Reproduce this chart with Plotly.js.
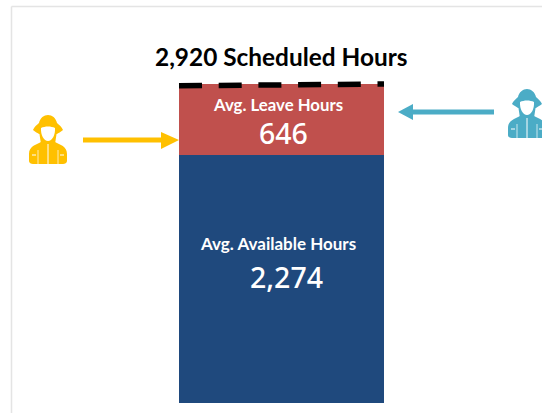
<!DOCTYPE html>
<html><head><meta charset="utf-8">
<script src="https://cdn.plot.ly/plotly-3.0.1.min.js"></script>
<style>html,body{margin:0;padding:0;background:#fff;overflow:hidden}</style></head>
<body><div id="chart" style="width:542px;height:413px"></div>
<script>
const categories = ['Hours'];
const availableHours = [2274];
const leaveHours = [646];
const scheduledHours = 2920;
const titleText = '2,920 Scheduled Hours';
const leaveLabel = 'Avg. Leave Hours';
const leaveValueText = '646';
const availableLabel = 'Avg. Available Hours';
const availableValueText = '2,274';

const W = 542, H = 413, L = 179, R = 384, T = 84, B = 403;
const px = x => (x - L) / (R - L);
const py = y => (B - y) / (B - T);
function path(segs){
  return segs.map(s => {
    const c = s[0], a = s.slice(1); let out = c;
    for (let i = 0; i < a.length; i += 2) out += (i ? ' ' : '') + px(a[i]).toFixed(5) + ',' + py(a[i+1]).toFixed(5);
    return out;
  }).join(' ');
}
function shp(segs, fill){
  return {type:'path', xref:'paper', yref:'paper', path:path(segs), fillcolor:fill, line:{width:0}, layer:'above'};
}
function strokeLine(x0,y0,x1,y1,color,w,dash){
  return {type:'line', xref:'paper', yref:'paper', x0:px(x0), y0:py(y0), x1:px(x1), y1:py(y1),
    line:{color:color, width:w, dash:dash||'solid'}, layer:'above'};
}
function icon(cx, top, color){
  const X = v => cx + v, Y = v => top + v;
  return [
    // body
    shp([['M',X(-7),Y(27)],['C',X(-12),Y(30),X(-19),Y(31),X(-19),Y(39)],['L',X(-19),Y(46)],
         ['C',X(-19),Y(48),X(-17),Y(49),X(-15),Y(49)],['L',X(15),Y(49)],['C',X(17),Y(49),X(19),Y(48),X(19),Y(46)],
         ['L',X(19),Y(39)],['C',X(19),Y(31),X(12),Y(30),X(7),Y(27)],['Z']], color),
    // helmet crown and brim
    shp([['M',X(-9),Y(8)],['C',X(-8),Y(3),X(-4),Y(0),X(0),Y(0)],['C',X(4),Y(0),X(8),Y(3),X(9),Y(8)],
         ['C',X(11),Y(10),X(14),Y(12),X(15),Y(15)],['C',X(13),Y(17),X(10),Y(18),X(9),Y(19)],
         ['L',X(-9),Y(19)],['C',X(-10),Y(18),X(-13),Y(17),X(-15),Y(15)],['C',X(-14),Y(12),X(-11),Y(10),X(-9),Y(8)],['Z']], color),
    // sides of the head
    shp([['M',X(-9),Y(16)],['L',X(9),Y(16)],['L',X(7),Y(29)],['L',X(-7),Y(29)],['Z']], color),
    // face
    shp([['M',X(-7),Y(13)],['C',X(-3),Y(11),X(3),Y(11),X(7),Y(13)],['C',X(7.5),Y(20),X(4),Y(26),X(0),Y(26)],
         ['C',X(-4),Y(26),X(-7.5),Y(20),X(-7),Y(13)],['Z']], '#ffffff'),
    // coat seams
    strokeLine(X(0),Y(29),X(0),Y(49),'#ffffff',1),
    strokeLine(X(-16),Y(40),X(-12),Y(40),'#ffffff',1),
    strokeLine(X(12),Y(40),X(16),Y(40),'#ffffff',1),
    strokeLine(X(-10),Y(35),X(-10),Y(49),'#ffffff',0.7),
    strokeLine(X(10),Y(35),X(10),Y(49),'#ffffff',0.7)
  ];
}
const yellow = '#FFC000', teal = '#4BACC6';
const shapes = [
  strokeLine(11.5,6.5,542,6.5,'#e4e4e4',1.5),
  strokeLine(11.5,6.5,11.5,413,'#e4e4e4',1.5),
  // dashed top line
  {type:'line', xref:'paper', yref:'paper', x0:0, x1:1, y0:py(85.8), y1:py(84),
   line:{color:'#000000', width:5.5, dash:'23px,16.7px'}, layer:'above'},
  // yellow arrow
  shp([['M',83,137.5],['L',161,137.5],['L',161,132],['L',179,140],['L',161,149],['L',161,142.5],['L',83,142.5],['Z']], yellow),
  // teal arrow
  shp([['M',494,109.5],['L',413,109.5],['L',413,104],['L',398,112],['L',413,120],['L',413,114.5],['L',494,114.5],['Z']], teal),
  ...icon(48,115,yellow),
  ...icon(527,89,teal)
];
function label(text,x,y,size,color,family,weight){
  return {text:text, xref:'paper', yref:'paper', x:px(x), y:py(y), xanchor:'center', yanchor:'middle',
    showarrow:false, font:{family:family||'Lato', size:size, color:color, weight:weight||700}};
}
const annotations = [
  label(titleText,281.5,56.5,24.4,'#000000'),
  label(leaveLabel,277.5,104,16.8,'#ffffff'),
  label(leaveValueText,283,132.5,28.5,'#ffffff','Noto Sans',500),
  label(availableLabel,278,243,17,'#ffffff'),
  label(availableValueText,286,276.5,28.5,'#ffffff','Noto Sans',500)
];
const data = [
  {type:'bar', x:categories, y:availableHours, marker:{color:'#1F497D', line:{width:0}}, hoverinfo:'skip'},
  {type:'bar', x:categories, y:leaveHours, marker:{color:'#C0504D', line:{width:0}}, hoverinfo:'skip'}
];
const layout = {
  width:W, height:H, barmode:'stack', bargap:0, showlegend:false,
  margin:{l:L, r:W-R, t:T, b:H-B, pad:0},
  paper_bgcolor:'#ffffff', plot_bgcolor:'#ffffff',
  xaxis:{visible:false, type:'category', fixedrange:true},
  yaxis:{visible:false, range:[0,scheduledHours], fixedrange:true},
  shapes:shapes, annotations:annotations
};
Plotly.newPlot('chart', data, layout, {displayModeBar:false, staticPlot:true});
</script></body></html>
